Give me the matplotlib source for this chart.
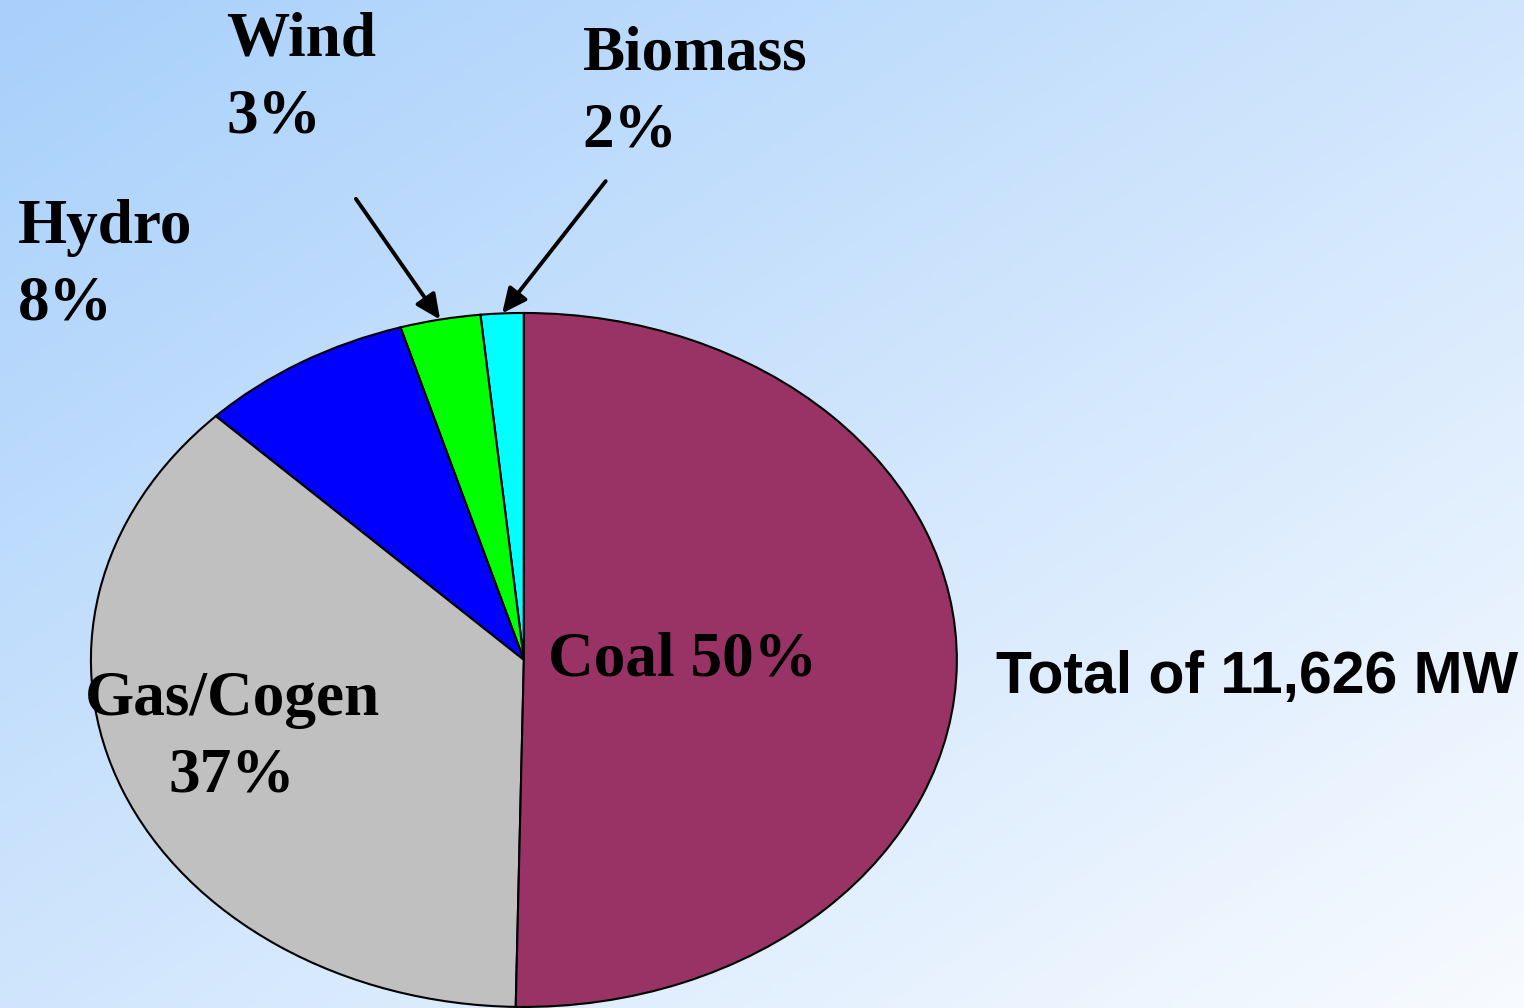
import numpy as np
import matplotlib
matplotlib.use("Agg")
import matplotlib.pyplot as plt

# generation mix, share of 11,626 MW (slices)
sources = ["Biomass", "Wind", "Hydro", "Gas/Cogen", "Coal"]
shares = [1.6, 3.0, 8.0, 37.1, 50.3]
shown_pct = ["2%", "3%", "8%", "37%", "50%"]
colors = ["#00ffff", "#00ff00", "#0000ff", "#c0c0c0", "#993366"]
total_label = "Total of 11,626 MW"

SERIF = "Liberation Serif"
SANS = "Liberation Sans"


def main():
    fig = plt.figure(figsize=(15.24, 10.08), dpi=100)

    # diagonal background gradient, light blue top-left to near white bottom-right
    bg = fig.add_axes([0, 0, 1, 1])
    gx, gy = np.meshgrid(np.linspace(0, 1, 400), np.linspace(0, 1, 300))
    t = ((gx + gy) / 2)[..., None]
    c0 = np.array([0xa8, 0xd0, 0xfb]) / 255
    c1 = np.array([0xf8, 0xfb, 0xff]) / 255
    bg.imshow(c0 + (c1 - c0) * t, extent=[0, 1, 0, 1], aspect="auto")
    bg.axis("off")

    ax = fig.add_axes([0, 0, 1, 1])
    ax.patch.set_alpha(0)
    wedges, _ = ax.pie(shares, colors=colors, startangle=90, counterclock=True,
                       wedgeprops=dict(edgecolor="black", linewidth=1.5))
    # stretched pie -> ellipse
    ax.set_aspect("auto")
    ax.set_xlim(-1.21, 2.31)
    ax.set_ylim(-1.003, 1.902)
    ax.axis("off")

    lab = dict(family=SERIF, fontweight="bold", fontsize=45.5, color="black",
               va="baseline")
    step = 0.222

    # Biomass / Wind / Hydro outside, Gas and Coal inside
    ax.text(0.136, 1.703, sources[0], ha="left", **lab)
    ax.text(0.136, 1.703 - step, shown_pct[0], ha="left", **lab)
    ax.text(-0.688, 1.741, sources[1], ha="left", **lab)
    ax.text(-0.688, 1.741 - step, shown_pct[1], ha="left", **lab)
    ax.text(-1.169, 1.202, sources[2], ha="left", **lab)
    ax.text(-1.169, 1.202 - step, shown_pct[2], ha="left", **lab)
    ax.text(-0.674, -0.158, sources[3], ha="center", **lab)
    ax.text(-0.674, -0.158 - step, shown_pct[3], ha="center", **lab)
    ax.text(0.055, -0.046, f"{sources[4]} {shown_pct[4]}", ha="left", **lab)

    ax.text(1.090, -0.095, total_label, family=SANS, fontweight="bold",
            fontsize=42.4, ha="left", va="baseline")

    # arrows to the two thin slices, pointing at wedge mid-angle on the rim
    starts = {0: (0.189, 1.380), 1: (-0.388, 1.329)}
    for i, start in starts.items():
        w = wedges[i]
        mid = np.deg2rad((w.theta1 + w.theta2) / 2)
        tip = (np.cos(mid), np.sin(mid))
        ax.annotate("", xy=tip, xytext=start,
                    arrowprops=dict(arrowstyle="-|>,head_length=0.6,head_width=0.28",
                                    lw=2.8, color="black", mutation_scale=25,
                                    shrinkA=0, shrinkB=0))

    plt.savefig("out.png", dpi=100)


if __name__ == "__main__":
    main()
